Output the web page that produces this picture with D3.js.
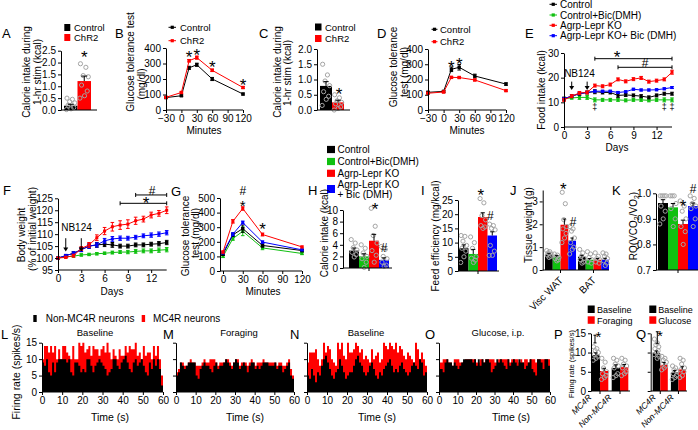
<!DOCTYPE html>
<html><head><meta charset="utf-8">
<script src="https://cdn.jsdelivr.net/npm/d3@7"></script>
<style>body{margin:0;background:#fff}</style>
</head><body>
<script>
// ================= DATA =================
const RED = "#ff0000", BLUE = "#0000ff", GREEN = "#10c010", BLACK = "#000000";
const crColors = [BLACK, RED];
const crNames = ["Control", "ChR2"];
const fourColors = [BLACK, GREEN, RED, BLUE];
const fourNames = ["Control", "Control+Bic(DMH)", "Agrp-Lepr KO", "Agrp-Lepr KO+ Bic (DMH)"];

// A
const aMeans = [0.18, 1.22];
const aErrs = [0.06, 0.21];
const aPoints = [[0.5,0.45,0.35,0.3,0.2,0.1,0.05,0.02],[1.95,1.8,1.45,1.4,1.05,0.8,0.6,0.5]];
const aTicks = [0,0.5,1,1.5,2,2.5];
// B
const gttMinutes = [-30,0,15,30,60,120];
const gttTicks = [-30,0,30,60,90,120];
const bControl = [80,92,272,292,200,103];
const bControlErr = [4,5,10,10,10,6];
const bChR2 = [82,113,318,338,256,145];
const bChR2Err = [4,5,8,10,8,6];
// C
const cMeans = [0.79, 0.25];
const cErrs = [0.14, 0.07];
const cPoints = [[1.5,1.15,0.95,0.8,0.6,0.45,0.35,0.15],[0.5,0.4,0.3,0.25,0.2,0.1,0.05,0.0]];
const cTicks = [0,0.5,1,1.5,2];
// D
const dControl = [116,122,267,280,223,170];
const dControlErr = [6,6,15,18,12,8];
const dChR2 = [110,118,214,213,197,127];
const dChR2Err = [5,5,6,5,6,5];
// E
const days = [0,1,2,3,4,5,6,7,8,9,10,11,12,13,14];
const dayTicks = [0,3,6,9,12];
const eControl = [11.5,12.5,13.5,14,14.3,14,14,12.8,13,12.8,12.5,12,12.8,13.5,13.5];
const eControlBic = [11.5,11.8,12,12,11,11,11,11,10.8,11,11,10.8,11,11,11];
const eKO = [11,12.5,13.8,14,16.8,16.5,17.2,19.3,18.5,19.4,19.9,18.4,18.8,19.3,22.2];
const eKOBic = [11.5,12.5,13.5,14,14.5,14.5,14.5,14,14.3,15.3,15,15,15.1,15.5,16];
const eControlErr = [0.6,0.6,0.6,0.6,0.8,0.6,0.6,0.8,0.6,0.6,0.6,0.6,0.6,0.6,0.6];
const eControlBicErr = [0.5,0.5,0.8,0.8,0.8,0.6,0.6,0.6,0.6,0.6,0.6,0.6,0.6,0.8,0.8];
const eKOErr = [0.6,0.6,0.6,0.6,0.6,0.6,0.6,0.6,0.6,0.6,0.6,0.6,0.6,0.6,0.8];
const eKOBicErr = [0.4,0.4,0.4,0.4,0.4,0.4,0.4,0.4,0.4,0.4,0.4,0.4,0.4,0.4,0.4];
// F
const fControl = [100,101,102,103.5,105,105.5,105.8,105.5,105,105,105.5,105.5,105.8,106,106.5];
const fControlBic = [100,100.5,100.8,101.3,101.5,101.8,102,102.3,102.5,102.5,102.8,103,103,103.3,103.5];
const fKO = [100,100.3,101,104,105.5,108.5,111.3,113.1,113.8,114.2,115.6,116.3,118,118.7,120];
const fKOBic = [100,101,102,103.5,105,105.5,107.2,108,108.3,108.3,108.7,109.3,109.6,110,110.6];
const fControlErr = [0.3,0.5,0.6,0.8,0.9,1.0,1.0,1.0,0.8,0.8,0.8,0.8,0.8,0.9,0.9];
const fControlBicErr = [0.3,0.3,0.4,0.5,0.5,0.5,0.5,0.6,0.6,0.7,0.8,0.8,0.8,0.9,0.9];
const fKOErr = [0.3,0.4,0.6,0.8,1.0,1.2,1.5,1.8,1.8,1.8,1.5,1.2,1.2,1.2,1.4];
const fKOBicErr = [0.3,0.5,0.6,0.8,0.9,0.9,1.0,1.0,0.9,0.8,0.8,0.8,0.9,0.9,0.9];
const fTicks = [95,100,105,110,115,120,125];
// G
const gMinutes = [0,15,30,60,120];
const gTicksX = [0,30,60,90,120];
const gControl = [115,248,290,175,140];
const gControlBic = [100,222,272,158,120];
const gKO = [130,340,428,250,165];
const gKOBic = [125,252,332,198,145];
const gControlErr = [8,12,25,12,8];
const gControlBicErr = [8,12,30,12,8];
const gKOErr = [8,12,12,10,6];
const gKOBicErr = [8,10,10,8,6];
// H
const hMeans = [3.0, 2.0, 4.7, 1.4];
const hErrs = [0.45, 0.45, 1.1, 0.35];
const hPoints = [[4.9,4.3,3.5,3.1,2.7,2.3,1.9],[4.0,3.4,2.6,2.0,1.6,1.0,0.1],[10.3,7.2,5.6,4.3,3.0,2.2,1.0],[3.7,3.2,2.0,1.6,1.0,0.5,0.3]];
// I
const iMeans = [8.0, 6.0, 19.0, 12.5];
const iErrs = [1.2, 1.6, 1.5, 1.3];
const iPoints = [[12.5,12.2,10.5,9,8,7,5,3],[12,10,8,5,4.5,3.8,3],[25.5,24,19.5,18,16,15.5,15],[16.5,16,15,14.5,9,7,5.5,5.5]];
// J
const jGroups = ["Visc WAT","BAT"];
const jMeans = [[0.68,0.58,1.98,1.28],[0.58,0.45,0.45,0.45]];
const jErrs = [[0.05,0.05,0.25,0.12],[0.06,0.05,0.05,0.06]];
const jPoints = [
  [[0.85,0.8,0.75,0.7,0.65,0.6,0.55],[0.7,0.65,0.6,0.55,0.5,0.45,0.4],[3.4,2.9,2.2,1.9,1.8,1.6,1.4,1.2],[1.9,1.8,1.7,1.4,1.2,1.0,0.9,0.7]],
  [[0.9,0.75,0.6,0.5,0.45,0.35,0.3],[0.8,0.7,0.55,0.45,0.35,0.3],[0.75,0.6,0.5,0.45,0.35,0.3],[0.75,0.7,0.6,0.5,0.4,0.3,0.2]]];
// K
const kMeans = [0.962, 0.945, 0.88, 0.95];
const kErrs = [0.013, 0.015, 0.015, 0.012];
const kPoints = [[0.99,0.99,0.99,0.99,0.95,0.93,0.9,0.88],[0.99,0.99,0.99,0.96,0.94,0.9,0.87],[0.97,0.95,0.93,0.9,0.87,0.85,0.8],[0.99,0.98,0.96,0.95,0.94,0.9,0.87]];
// L-O firing-rate histograms (1 s bins, 0-60 s)
const lRed = [10,14,14,12,14,12,14,10,13,10,14,14,12,11,10,14,10,10,15,14,15,12,13,14,11,14,13,13,11,13,14,12,15,12,10,13,11,10,13,11,11,14,12,14,13,13,15,11,12,10,14,11,12,12,10,14,11,14,10,5];
const lBlack = [9,8,10,6,5,9,6,9,10,10,10,10,9,10,6,5,9,9,8,6,7,6,10,10,8,6,8,9,10,9,8,7,5,6,7,10,10,8,7,9,10,11,9,7,6,9,10,8,9,10,8,6,5,9,7,10,8,10,7,2];
const mRed = [6,7,9,9,8,8,9,10,9,9,8,8,8,9,10,9,9,10,10,10,9,8,9,9,9,10,10,9,8,9,10,10,8,9,9,9,8,9,10,9,8,9,9,9,10,9,9,9,9,9,9,8,9,9,8,8,9,10,7,5];
const mBlack = [5,6,9,8,7,8,9,9,9,9,5,4,7,8,9,8,8,7,6,8,9,7,8,8,9,10,9,8,7,9,10,9,7,8,9,8,6,8,9,9,7,8,7,8,9,9,9,8,8,8,9,7,8,8,6,7,8,9,5,4];
const nRed = [9,12,12,12,13,10,8,10,15,12,14,13,10,9,8,15,13,15,11,10,15,12,12,13,15,14,12,13,10,11,10,9,13,10,11,12,9,10,15,14,13,15,14,13,15,12,14,13,11,10,12,11,10,9,15,13,10,12,10,8];
const nBlack = [5,4,7,5,3,6,5,8,10,11,9,7,5,4,6,7,10,8,6,4,5,6,6,8,10,11,9,8,6,5,6,8,9,7,5,4,6,5,7,8,9,10,8,6,7,6,8,9,7,6,5,6,8,9,8,7,10,9,5,6];
const oRed = [9,9,10,10,10,9,9,8,10,10,10,9,9,9,10,10,10,10,10,10,9,9,10,10,9,10,10,10,10,10,9,9,10,10,10,10,10,10,9,10,10,10,10,9,10,9,10,10,9,10,10,10,9,10,10,10,10,10,10,10];
const oBlack = [7,7,6,9,10,9,9,8,9,8,7,8,9,10,10,10,10,10,9,10,8,10,8,10,9,10,10,9,6,7,8,10,9,10,9,8,7,10,8,9,10,9,8,10,9,9,7,8,9,10,7,6,5,10,10,9,7,10,10,8];
const histTicksX = [0,10,20,30,40,50,60];
const rateTicks = [0,5,10,15];
// P, Q
const pqGroups = ["MC4R","Non-MC4R"];
const pMeans = [[9.3,5.2],[6.0,6.2]];
const pErrs = [[0.6,0.7],[0.8,0.7]];
const pPoints = [[[11.5,11,10.5,10,9.5,9,8.5,8],[8.5,7.5,6,5,4.5,4,3.5,3]],[[8.5,8,7,6.5,6,4.5,4,3.5],[8.5,8,7,6.5,6,5,4.5,4]]];
const qMeans = [[9.8,6.8],[4.8,5.6]];
const qErrs = [[0.6,0.6],[0.5,0.7]];
const qPoints = [[[13.5,12.5,12,11.5,11,10.5,10,9.5,9,8.5],[9,8.5,8,7.5,7,6.5,6,5.5]],[[6.5,6,5.5,5,4.5,4,3.5,3],[8.5,8,7,6,5.5,5,4,3.5]]];

// ================= DRAWING =================
const FONT = "'Liberation Sans', Arial, Helvetica, sans-serif";
const svg = d3.select("body").append("svg").attr("width",698).attr("height",430)
  .style("font-family",FONT).style("background","#fff");
const DOT_OFF = [-0.28,0.12,-0.08,0.3,-0.2,0.22,0.02,-0.32,0.32,0.1];

function txt(x,y,s,o={}) {
  const t = svg.append("text").attr("x",x).attr("y",y).text(s)
    .attr("font-size",o.size||10).attr("text-anchor",o.anchor||"start").attr("fill",o.fill||"#000");
  if (o.rotate) t.attr("transform",`rotate(${o.rotate},${x},${y})`);
  if (o.italic) t.attr("font-style","italic");
  return t;
}
function vtitle(cx, cy, s, size=10){ return txt(cx+size*0.35, cy, s, {size, anchor:"middle", rotate:-90}); }
function star(x, cy, size=17){ return txt(x, cy+size*0.56, "*", {size, anchor:"middle"}); }
function hash(x, cy, size=12){ return txt(x, cy+size*0.36, "#", {size, anchor:"middle"}); }
function letter(x, base, s){ return txt(x, base, s, {size:13}); }
function hline(x1,x2,y){ svg.append("line").attr("x1",x1).attr("x2",x2).attr("y1",y).attr("y2",y).attr("stroke","#000").attr("stroke-width",1); }
function vline(x,y1,y2,c="#000"){ svg.append("line").attr("x1",x).attr("x2",x).attr("y1",y1).attr("y2",y2).attr("stroke",c).attr("stroke-width",1); }

function styleAxis(g){
  g.attr("font-family",FONT).attr("font-size",10);
  g.selectAll("text").attr("fill","#000");
  g.selectAll("line").attr("stroke","#000");
  g.select(".domain").attr("stroke","#000");
}
function leftAxis(x, y, ticks, fmt, labels=true){
  const a = d3.axisLeft(y).tickValues(ticks).tickSize(3).tickPadding(2).tickSizeOuter(0)
    .tickFormat(labels ? (fmt ? d3.format(fmt) : d3.format("")) : () => "");
  const g = svg.append("g").attr("transform",`translate(${x},0)`).call(a);
  styleAxis(g); return g;
}
function bottomAxis(yPos, x, ticks, x0, x1, labels=true){
  const a = d3.axisBottom(x).tickValues(ticks).tickSize(3).tickPadding(2).tickSizeOuter(0)
    .tickFormat(labels ? d3.format("") : () => "");
  const g = svg.append("g").attr("transform",`translate(0,${yPos})`).call(a);
  styleAxis(g);
  g.select(".domain").remove();
  hline(x0, x1, yPos);
  return g;
}

function groupedBars(o){
  const x0 = d3.scaleBand().domain(o.groups).range(o.band).paddingInner(o.pad||0);
  const x1 = d3.scaleBand().domain(d3.range(o.colors.length)).range([0, x0.bandwidth()]);
  const flat = [];
  o.groups.forEach((g,gi)=>o.colors.forEach((c,si)=>flat.push({g, si, m:o.means[gi][si], e:o.errs[gi][si], p:o.pts[gi][si], c})));
  const base = o.y(o.y.domain()[0]);
  const cx = d => x0(d.g)+x1(d.si)+x1.bandwidth()/2;
  const G = svg.append("g");
  G.selectAll("rect.bar").data(flat).join("rect").attr("class","bar")
    .attr("x",d=>x0(d.g)+x1(d.si)).attr("width",x1.bandwidth())
    .attr("y",d=>o.y(d.m)).attr("height",d=>base-o.y(d.m)).attr("fill",d=>d.c);
  const dots = flat.flatMap(d=>d.p.map((v,i)=>({x: cx(d)+DOT_OFF[i%DOT_OFF.length]*x1.bandwidth(), v})));
  G.selectAll("circle").data(dots).join("circle")
    .attr("cx",d=>d.x).attr("cy",d=>o.y(d.v)).attr("r",2.1)
    .attr("fill","none").attr("stroke","#a4a4a4").attr("stroke-width",1);
  const cw = x1.bandwidth()*0.22;
  G.selectAll("line.err").data(flat).join("line").attr("class","err")
    .attr("x1",cx).attr("x2",cx).attr("y1",d=>o.y(d.m)).attr("y2",d=>o.y(d.m+d.e)).attr("stroke","#000");
  G.selectAll("line.cap").data(flat).join("line").attr("class","cap")
    .attr("x1",d=>cx(d)-cw).attr("x2",d=>cx(d)+cw).attr("y1",d=>o.y(d.m+d.e)).attr("y2",d=>o.y(d.m+d.e)).attr("stroke","#000");
  return {x0, x1, center:(g)=>x0(g)+x0.bandwidth()/2, barC:(g,s)=>x0(g)+x1(s)+x1.bandwidth()/2};
}

function lineSeries(x, y, xs, vals, errs, color, ms=3.4){
  const g = svg.append("g");
  const pts = vals.map((v,i)=>({x:xs[i], v, e:errs[i]}));
  g.append("path").datum(pts).attr("d", d3.line().x(d=>x(d.x)).y(d=>y(d.v)))
    .attr("fill","none").attr("stroke",color).attr("stroke-width",1);
  g.selectAll("line.e").data(pts).join("line").attr("class","e")
    .attr("x1",d=>x(d.x)).attr("x2",d=>x(d.x)).attr("y1",d=>y(d.v-d.e)).attr("y2",d=>y(d.v+d.e)).attr("stroke",color);
  [1,-1].forEach(sg=>{
    g.selectAll("line.c"+(sg>0?"a":"b")).data(pts).join("line").attr("class","c"+(sg>0?"a":"b"))
      .attr("x1",d=>x(d.x)-1.8).attr("x2",d=>x(d.x)+1.8).attr("y1",d=>y(d.v+sg*d.e)).attr("y2",d=>y(d.v+sg*d.e)).attr("stroke",color);
  });
  g.selectAll("rect").data(pts).join("rect")
    .attr("x",d=>x(d.x)-ms/2).attr("y",d=>y(d.v)-ms/2).attr("width",ms).attr("height",ms).attr("fill",color);
}
function lineLegend(x1, x2, cy, color, label, tx, size=10){
  svg.append("line").attr("x1",x1).attr("x2",x2).attr("y1",cy).attr("y2",cy).attr("stroke",color);
  svg.append("rect").attr("x",(x1+x2)/2-1.6).attr("y",cy-1.6).attr("width",3.2).attr("height",3.2).attr("fill",color);
  txt(tx, cy+size*0.36, label, {size});
}
function sigBar(x, y, d1, d2, v){
  const yy = y(v);
  hline(x(d1), x(d2), yy);
  vline(x(d1), yy-2, yy+2); vline(x(d2), yy-2, yy+2);
}
function arrowDown(x, y, d, vTop, vBot){
  const xx = x(d), y1 = y(vTop), y2 = y(vBot);
  vline(xx, y1, y2-3);
  svg.append("path").attr("d",`M${xx-2.5},${y2-4}L${xx+2.5},${y2-4}L${xx},${y2}Z`).attr("fill","#000");
}
function hist(x, y, red, black){
  [[red,RED],[black,BLACK]].forEach(([vals,c])=>{
    const pts = vals.map((v,i)=>[i,v]).concat([[vals.length, vals[vals.length-1]]]);
    svg.append("path").datum(pts)
      .attr("d", d3.area().curve(d3.curveStepAfter).x(d=>x(d[0])).y0(y(0)).y1(d=>y(d[1])))
      .attr("fill", c);
  });
}

// ---------- Panel A ----------
{
  const y = d3.scaleLinear().domain([0,2.5]).range([110,50.7]);
  groupedBars({groups:[""], colors:crColors, means:[aMeans], errs:[aErrs], pts:[aPoints], band:[64,91], y});
  const b = d3.scaleBand().domain(crNames).range([64,91]);
  leftAxis(61, y, aTicks, ".1f");
  hline(61, 97, 110);
  letter(2, 38, "A");
  svg.append("rect").attr("x",64.3).attr("y",24).attr("width",6).attr("height",7).attr("fill",BLACK);
  txt(74, 31, crNames[0], {size:9.5});
  svg.append("rect").attr("x",64.3).attr("y",34).attr("width",6).attr("height",7).attr("fill",RED);
  txt(74, 41, crNames[1], {size:9.5});
  vtitle(26, 72, "Calorie intake during");
  vtitle(37, 72, "1-hr stim (kcal)");
  star(b("ChR2")+b.bandwidth()/2, 53.3);
}
// ---------- Panel B ----------
{
  const x = d3.scaleLinear().domain([-30,120]).range([166,243]);
  const y = d3.scaleLinear().domain([0,400]).range([110,48]);
  lineSeries(x, y, gttMinutes, bControl, bControlErr, BLACK);
  lineSeries(x, y, gttMinutes, bChR2, bChR2Err, RED);
  leftAxis(166, y, [0,100,200,300,400]);
  bottomAxis(110, x, gttTicks, 166, 243);
  letter(115, 38, "B");
  vtitle(130, 62, "Glucose tolerance test");
  vtitle(141, 84, "(mg/dl)");
  txt(204, 133.5, "Minutes", {anchor:"middle"});
  lineLegend(168.5, 176, 27.3, BLACK, crNames[0], 180, 9.5);
  lineLegend(168.5, 176, 40.7, RED, crNames[1], 180, 9.5);
  star(x(15), 53.3); star(x(30), 51); star(x(60), 63.3); star(x(120), 81.7);
}
// ---------- Panel C ----------
{
  const y = d3.scaleLinear().domain([0,2]).range([110,49]);
  groupedBars({groups:[""], colors:crColors, means:[cMeans], errs:[cErrs], pts:[cPoints], band:[320,344], y});
  const b = d3.scaleBand().domain(crNames).range([320,344]);
  leftAxis(317, y, cTicks, ".1f");
  hline(317, 350, 110);
  letter(259, 38, "C");
  svg.append("rect").attr("x",315).attr("y",23.5).attr("width",6.5).attr("height",7).attr("fill",BLACK);
  txt(325, 31, crNames[0], {size:9.5});
  svg.append("rect").attr("x",315).attr("y",35).attr("width",6.5).attr("height",7).attr("fill",RED);
  txt(325, 42, crNames[1], {size:9.5});
  vtitle(277, 72, "Calorie intake during");
  vtitle(287, 73, "1-hr stim (kcal)");
  star(b("ChR2")+b.bandwidth()/2+1, 90);
}
// ---------- Panel D ----------
{
  const x = d3.scaleLinear().domain([-30,120]).range([428,506]);
  const y = d3.scaleLinear().domain([0,400]).range([110,49]);
  lineSeries(x, y, gttMinutes, dControl, dControlErr, BLACK);
  lineSeries(x, y, gttMinutes, dChR2, dChR2Err, RED);
  leftAxis(428, y, [0,100,200,300,400]);
  bottomAxis(110, x, gttTicks, 428, 506);
  letter(377, 38, "D");
  vtitle(393, 67, "Glucose tolerance");
  vtitle(404, 72, "test (mg/dl)");
  txt(467, 133.5, "Minutes", {anchor:"middle"});
  lineLegend(431.5, 437.5, 29.3, BLACK, crNames[0], 440, 9.5);
  lineLegend(431.5, 437.5, 41.7, RED, crNames[1], 440, 9.5);
  star(x(15), 63.3); star(x(30), 60);
}
// ---------- Panel E ----------
{
  const x = d3.scaleLinear().domain([0,14]).range([564,672]);
  const y = d3.scaleLinear().domain([0,30]).range([127,53]);
  lineSeries(x, y, days, eControlBic, eControlBicErr, GREEN, 3);
  lineSeries(x, y, days, eControl, eControlErr, BLACK, 3);
  lineSeries(x, y, days, eKOBic, eKOBicErr, BLUE, 3);
  lineSeries(x, y, days, eKO, eKOErr, RED, 3);
  leftAxis(564, y, [0,10,20,30]);
  bottomAxis(127, x, dayTicks, 564, 672);
  letter(525, 38, "E");
  vtitle(541.7, 90, "Food intake (kcal)");
  txt(617, 151, "Days", {anchor:"middle"});
  const ly = [4.3, 15, 25.3, 35.7];
  fourNames.forEach((n,i)=>lineLegend(549.5, 557, ly[i], fourColors[i], n, 560, 10));
  sigBar(x, y, 4, 14, 27.7); star(617, 53);
  sigBar(x, y, 7, 14, 24.2); hash(645, 62.5);
  txt(x(2), 76.5, "NB124", {anchor:"middle", size:10});
  arrowDown(x, y, 1, 18.4, 15); arrowDown(x, y, 3, 18.4, 15);
  [4,13,14].forEach(d=>txt(x(d), y(7.8)+2.6, "\u2021", {anchor:"middle", size:9}));
}
// ---------- Panel F ----------
{
  const x = d3.scaleLinear().domain([0,14]).range([58,166.7]);
  const y = d3.scaleLinear().domain([95,125]).range([270,198.3]);
  lineSeries(x, y, days, fControlBic, fControlBicErr, GREEN, 3);
  lineSeries(x, y, days, fControl, fControlErr, BLACK, 3.4);
  lineSeries(x, y, days, fKOBic, fKOBicErr, BLUE, 3);
  lineSeries(x, y, days, fKO, fKOErr, RED, 3);
  leftAxis(58, y, fTicks);
  bottomAxis(270, x, dayTicks, 58, 166.7);
  letter(3, 195, "F");
  vtitle(21.7, 235, "Body weight");
  vtitle(32.7, 229, "(% of initial weight)");
  txt(112, 294.5, "Days", {anchor:"middle"});
  sigBar(x, y, 10, 14, 126.4); hash(152, 191);
  sigBar(x, y, 8, 14, 122.9); star(146, 199.5);
  txt(76.5, 230.5, "NB124", {anchor:"middle", size:10});
  arrowDown(x, y, 1, 108.3, 102.7); arrowDown(x, y, 3, 108.3, 102.7);
}
// ---------- Panel G ----------
{
  const x = d3.scaleLinear().domain([0,120]).range([223,302]);
  const y = d3.scaleLinear().domain([0,500]).range([271,198]);
  lineSeries(x, y, gMinutes, gControlBic, gControlBicErr, GREEN, 3);
  lineSeries(x, y, gMinutes, gControl, gControlErr, BLACK, 3.4);
  lineSeries(x, y, gMinutes, gKOBic, gKOBicErr, BLUE, 3);
  lineSeries(x, y, gMinutes, gKO, gKOErr, RED, 3);
  leftAxis(220, y, [0,100,200,300,400,500]);
  bottomAxis(271, x, gTicksX, 220, 302);
  letter(171, 196, "G");
  vtitle(185, 236, "Glucose tolerance");
  vtitle(195, 233, "test (mg/dl)");
  txt(263, 295, "Minutes", {anchor:"middle"});
  hash(x(30), 191); star(x(30), 203, 15); star(x(60), 225);
}
// ---------- Legend for F-K ----------
{
  const ly = [149.5, 161.5, 173.3];
  [0,1,2].forEach(i=>{
    svg.append("rect").attr("x",327).attr("y",ly[i]-3.6).attr("width",8).attr("height",7.2).attr("fill",fourColors[i]);
    txt(337.5, ly[i]+3.6, fourNames[i], {size:10});
  });
  svg.append("rect").attr("x",327).attr("y",185).attr("width",8).attr("height",8).attr("fill",BLUE);
  txt(337.5, 187.6, "Agrp-Lepr KO", {size:10});
  txt(337.5, 198.2, "+ Bic (DMH)", {size:10});
}
// ---------- Panel H ----------
{
  const y = d3.scaleLinear().domain([0,10]).range([268,210]);
  const r = groupedBars({groups:[""], colors:fourColors, means:[hMeans], errs:[hErrs], pts:[hPoints], band:[349,389], y});
  leftAxis(343, y, [0,2,4,6,8,10]);
  hline(343, 392, 268); vline(r.center(""), 268, 271);
  letter(308, 195, "H");
  vtitle(324, 233, "Calorie intake (kcal)");
  star(r.barC("",2)+1, 205); hash(r.barC("",3), 247.3);
}
// ---------- Panel I ----------
{
  const y = d3.scaleLinear().domain([0,25]).range([271,200]);
  const r = groupedBars({groups:[""], colors:fourColors, means:[iMeans], errs:[iErrs], pts:[iPoints], band:[459,497], y});
  leftAxis(458, y, [0,5,10,15,20,25]);
  hline(458, 499, 271); vline(r.center(""), 271, 274);
  letter(421, 195, "I");
  vtitle(435, 236, "Feed efficiency (mg/kcal)");
  star(r.barC("",2)-2, 191.7); hash(r.barC("",3)-2, 216);
}
// ---------- Panel J ----------
{
  const y = d3.scaleLinear().domain([0,3.5]).range([270,190]);
  const r = groupedBars({groups:jGroups, colors:fourColors, means:jMeans, errs:jErrs, pts:jPoints, band:[545,609], pad:0.06, y});
  leftAxis(542.7, y, [0,1,2,3]);
  hline(542.7, 609, 270);
  jGroups.forEach(g=>{ vline(r.center(g), 270, 273); txt(r.center(g)+3, 281, g, {anchor:"end", rotate:-45, size:10}); });
  letter(510, 195, "J");
  vtitle(528, 225, "Tissue weight (g)");
  star(r.barC("Visc WAT",2)-1, 185); hash(r.barC("Visc WAT",3)+1, 221.7);
}
// ---------- Panel K ----------
{
  const y = d3.scaleLinear().domain([0.7,1.0]).range([270,193.3]);
  const r = groupedBars({groups:[""], colors:fourColors, means:[kMeans], errs:[kErrs], pts:[kPoints], band:[658,698], y});
  leftAxis(656, y, [0.7,0.8,0.9,1.0], ".1f");
  hline(656, 698, 270); vline(r.center(""), 270, 273);
  letter(612, 195, "K");
  const kt = svg.append("text").attr("transform","translate(636.5,226) rotate(-90)")
    .attr("text-anchor","middle").attr("font-size",10).attr("fill","#000");
  kt.append("tspan").text("RQ(VCO");
  kt.append("tspan").attr("font-size",7).attr("dy",2).text("2");
  kt.append("tspan").attr("dy",-2).text("/VO");
  kt.append("tspan").attr("font-size",7).attr("dy",2).text("2");
  kt.append("tspan").attr("dy",-2).text(")");
  star(r.barC("",2), 202.7); hash(r.barC("",3), 188.3);
}
// ---------- Panels L-O ----------
{
  const y = d3.scaleLinear().domain([0,15]).range([392,342.7]);
  const panels = [
    {r:[42,163], red:lRed, black:lBlack, title:"Baseline", tx:95, lab:"L", lx:1, timeX:110, labels:true},
    {r:[176,294], red:mRed, black:mBlack, title:"Foraging", tx:239, lab:"M", lx:163, timeX:245, labels:false},
    {r:[307,427], red:nRed, black:nBlack, title:"Baseline", tx:366, lab:"N", lx:290, timeX:377, labels:false},
    {r:[439,550], red:oRed, black:oBlack, title:"Glucose, i.p.", tx:498, lab:"O", lx:425, timeX:511, labels:false}
  ];
  panels.forEach(p=>{
    const x = d3.scaleLinear().domain([0,60]).range(p.r);
    hist(x, y, p.red, p.black);
    leftAxis(p.r[0], y, rateTicks, null, p.labels);
    bottomAxis(392, x, histTicksX, p.r[0], p.r[1]);
    txt(p.tx, 336, p.title, {anchor:"middle", size:9.5});
    letter(p.lx, 339, p.lab);
    txt(p.timeX, 420.5, "Time (s)", {anchor:"middle", size:10.5});
  });
  vtitle(16.7, 372, "Firing rate (spikes/s)", 10.5);
  svg.append("rect").attr("x",33.3).attr("y",315).attr("width",3.4).attr("height",7).attr("fill",BLACK);
  txt(45.7, 321.5, "Non-MC4R neurons", {size:10});
  svg.append("rect").attr("x",141.7).attr("y",315).attr("width",3.4).attr("height",7).attr("fill",RED);
  txt(153, 321.5, "MC4R neurons", {size:10});
}
// ---------- Panels P, Q ----------
{
  const y = d3.scaleLinear().domain([0,15]).range([391,333.3]);
  const specs = [
    {band:[591.7,628.3], axis:591, end:630, means:pMeans, errs:pErrs, pts:pPoints, lab:"P", lx:554, labels:true,
     leg:[587.7,597,"Foraging"], labOff:-8, br:595, starX:598.3, starY:333.3, brV:[12.5,14.5]},
    {band:[652.7,686], axis:650.7, end:687, means:qMeans, errs:qErrs, pts:qPoints, lab:"Q", lx:636, labels:false,
     leg:[649.3,658.3,"Glucose"], labOff:-4, br:657.3, starX:660, starY:332.3, brV:[12.4,15.4]}
  ];
  specs.forEach(s=>{
    const r = groupedBars({groups:pqGroups, colors:crColors, means:s.means, errs:s.errs, pts:s.pts, band:s.band, pad:0.17, y});
    leftAxis(s.axis, y, rateTicks, null, s.labels);
    hline(s.axis, s.end, 391);
    pqGroups.forEach(g=>{ vline(r.center(g), 391, 394); txt(r.center(g)+s.labOff, 398, g, {anchor:"end", rotate:-45, size:8.5, italic:true}); });
    letter(s.lx, 339, s.lab);
    svg.append("rect").attr("x",s.leg[0]).attr("y",305.5).attr("width",7).attr("height",7.5).attr("fill",BLACK);
    txt(s.leg[1], 312.5, "Baseline", {size:9});
    svg.append("rect").attr("x",s.leg[0]).attr("y",316.3).attr("width",7).attr("height",7.5).attr("fill",RED);
    txt(s.leg[1], 323.5, s.leg[2], {size:9});
    const b1 = y(s.brV[0]), b2 = y(s.brV[1]);
    vline(s.br, b2, b1); hline(s.br-1.5, s.br+1.5, b1); hline(s.br-1.5, s.br+1.5, b2);
    star(s.starX, s.starY, 15);
  });
  vtitle(571.7, 364, "Firing rate (spikes/s)", 7.5);
}
</script>
</body></html>
